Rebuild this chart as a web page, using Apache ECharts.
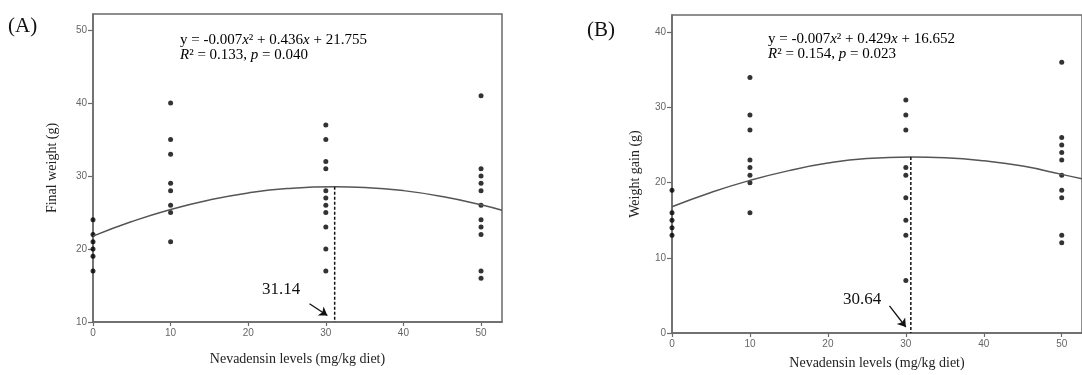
<!DOCTYPE html>
<html>
<head>
<meta charset="utf-8">
<script src="https://cdn.jsdelivr.net/npm/echarts@6/dist/echarts.min.js"></script>
<style>
html, body { margin: 0; padding: 0; background: #fff; }
#chart { width: 1082px; height: 375px; }
</style>
</head>
<body>
<div id="chart"></div>
<script>
// dose levels (mg/kg diet)
var doseLevels = [0, 10, 30, 50];
var xTicks = [0, 10, 20, 30, 40, 50];

// (A) final weight, g
var finalWeight0 = [24, 22, 21, 20, 19, 17];
var finalWeight10 = [40, 35, 33, 29, 28, 26, 25, 21];
var finalWeight30 = [37, 35, 32, 31, 28, 27, 26, 25, 23, 20, 17];
var finalWeight50 = [41, 31, 30, 29, 28, 26, 24, 23, 22, 17, 16];
var yTicksA = [10, 20, 30, 40, 50];
var curveXA = [0, 5, 10, 15, 20, 25, 31.14, 35, 40, 45, 50, 52.7];
var curveYA = [21.76, 23.76, 25.42, 26.72, 27.68, 28.28, 28.54, 28.44, 28.0, 27.2, 26.06, 25.3];
var optimumA = [31.14, 28.54];
var arrowA = [[27.9, 12.5], [30.2, 10.9]];

// (B) weight gain, g
var weightGain0 = [19, 16, 15, 14, 13];
var weightGain10 = [34, 29, 27, 23, 22, 21, 20, 16];
var weightGain30 = [31, 29, 27, 22, 21, 18, 15, 13, 7];
var weightGain50 = [36, 26, 25, 24, 23, 21, 19, 18, 13, 12];
var yTicksB = [0, 10, 20, 30, 40];
var curveXB = [0, 5, 10, 15, 20, 25, 30.64, 35, 40, 45, 50, 52.6];
var curveYB = [16.8, 18.7, 20.3, 21.6, 22.6, 23.2, 23.4, 23.3, 22.9, 22.2, 21.1, 20.5];
var optimumB = [30.64, 23.4];
var arrowB = [[27.9, 3.6], [30.0, 0.8]];

function pairs(levels, groups) {
  var out = [];
  levels.forEach(function (lv, i) {
    groups[i].forEach(function (v) { out.push([lv, v]); });
  });
  return out;
}
function zip(xs, ys) {
  return xs.map(function (x, i) { return [x, ys[i]]; });
}

var serif = 'Liberation Serif';
var axisGray = '#6a6a6a';

function xAxisFor(gridIndex, max, gap) {
  return {
    type: 'value', gridIndex: gridIndex, min: 0, max: max,
    name: 'Nevadensin levels (mg/kg diet)', nameLocation: 'middle', nameGap: gap,
    nameTextStyle: { fontFamily: serif, fontSize: 14, color: '#222' },
    axisLine: { lineStyle: { color: axisGray, width: 1.5 } },
    axisTick: { length: 4, customValues: xTicks, lineStyle: { color: axisGray, width: 1.2 } },
    axisLabel: { customValues: xTicks, fontFamily: 'Liberation Sans', fontSize: 10, color: '#666', margin: 6 },
    splitLine: { show: false }
  };
}
function yAxisFor(gridIndex, min, max, ticks, name, gap) {
  return {
    type: 'value', gridIndex: gridIndex, min: min, max: max,
    name: name, nameLocation: 'middle', nameGap: gap,
    nameTextStyle: { fontFamily: serif, fontSize: 14, color: '#222' },
    axisLine: { lineStyle: { color: axisGray, width: 1.5 } },
    axisTick: { length: 5, customValues: ticks, lineStyle: { color: axisGray, width: 1.2 } },
    axisLabel: { customValues: ticks, fontFamily: 'Liberation Sans', fontSize: 10, color: '#666', margin: 6 },
    splitLine: { show: false }
  };
}

function panelSeries(idx, scatterData, curve, optimum, arrow, bottom) {
  return [
    {
      type: 'line', xAxisIndex: idx, yAxisIndex: idx, data: curve,
      smooth: true, showSymbol: false, silent: true,
      lineStyle: { color: '#555', width: 1.5 }
    },
    {
      type: 'line', xAxisIndex: idx, yAxisIndex: idx,
      data: [optimum, [optimum[0], bottom]],
      showSymbol: false, silent: true,
      lineStyle: { color: '#111', width: 1.5, type: [3, 2] },
      markLine: {
        silent: true, symbol: ['none', 'arrow'], symbolSize: 8,
        label: { show: false },
        lineStyle: { color: '#111', width: 1.3, type: 'solid' },
        data: [[{ coord: arrow[0] }, { coord: arrow[1] }]]
      }
    },
    {
      type: 'scatter', xAxisIndex: idx, yAxisIndex: idx, data: scatterData,
      symbolSize: 5, clip: false,
      itemStyle: { color: '#000' }
    }
  ];
}

var eqRich = {
  n: { fontFamily: serif, fontSize: 15, color: '#111', lineHeight: 15 },
  i: { fontFamily: serif, fontSize: 15, fontStyle: 'italic', color: '#111', lineHeight: 15 }
};

var chart = echarts.init(document.getElementById('chart'), null, { renderer: 'canvas' });
chart.setOption({
  animation: false,
  grid: [
    { left: 93, top: 14, width: 409, height: 308, show: true, borderColor: axisGray, borderWidth: 1.5 },
    { left: 672, top: 15, width: 414, height: 319, show: true, borderColor: axisGray, borderWidth: 1.5 }
  ],
  xAxis: [xAxisFor(0, 52.7, 30), xAxisFor(1, 52.6, 23)],
  yAxis: [
    yAxisFor(0, 10, 52.2, yTicksA, 'Final weight (g)', 34),
    yAxisFor(1, 0, 42.3, yTicksB, 'Weight gain (g)', 30)
  ],
  series: []
    .concat(panelSeries(0, pairs(doseLevels, [finalWeight0, finalWeight10, finalWeight30, finalWeight50]),
      zip(curveXA, curveYA), optimumA, arrowA, 10))
    .concat(panelSeries(1, pairs(doseLevels, [weightGain0, weightGain10, weightGain30, weightGain50]),
      zip(curveXB, curveYB), optimumB, arrowB, 0)),
  graphic: [
    { type: 'text', left: 8, top: 16, style: { text: '(A)', font: '21px "Liberation Serif"', fill: '#111' } },
    { type: 'text', left: 587, top: 20, style: { text: '(B)', font: '21px "Liberation Serif"', fill: '#111' } },
    { type: 'text', left: 180, top: 33, style: {
      text: '{n|y = -0.007}{i|x}{n|² + 0.436}{i|x}{n| + 21.755}\n{i|R}{n|² = 0.133, }{i|p}{n| = 0.040}', rich: eqRich } },
    { type: 'text', left: 768, top: 32, style: {
      text: '{n|y = -0.007}{i|x}{n|² + 0.429}{i|x}{n| + 16.652}\n{i|R}{n|² = 0.154, }{i|p}{n| = 0.023}', rich: eqRich } },
    { type: 'text', left: 262, top: 281, style: { text: '31.14', font: '17px "Liberation Serif"', fill: '#111' } },
    { type: 'text', left: 843, top: 291, style: { text: '30.64', font: '17px "Liberation Serif"', fill: '#111' } }
  ]
});
</script>
</body>
</html>
